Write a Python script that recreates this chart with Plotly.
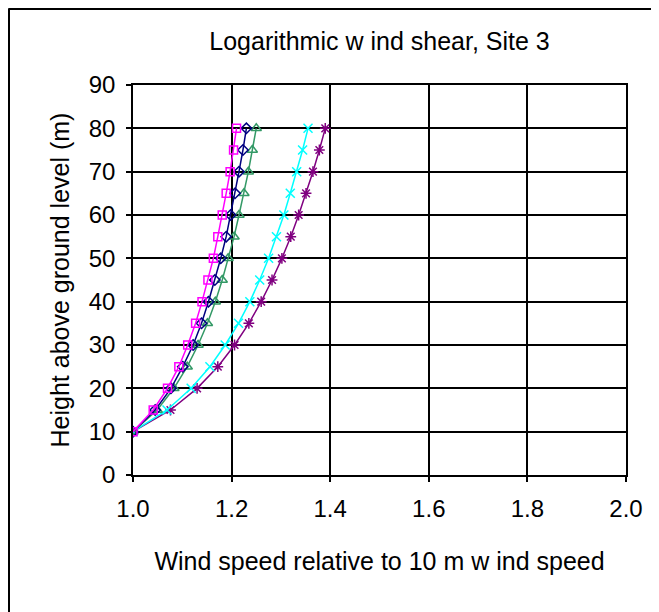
import plotly.graph_objects as go

heights = [10, 15, 20, 25, 30, 35, 40, 45, 50, 55, 60, 65, 70, 75, 80]

series_magenta = [1.000, 1.041, 1.070, 1.093, 1.111, 1.127, 1.140, 1.152, 1.163, 1.172, 1.181, 1.189, 1.197, 1.204, 1.210]
series_navy    = [1.000, 1.045, 1.077, 1.101, 1.122, 1.139, 1.153, 1.166, 1.178, 1.189, 1.198, 1.207, 1.215, 1.223, 1.230]
series_green   = [1.000, 1.049, 1.083, 1.110, 1.132, 1.151, 1.167, 1.181, 1.193, 1.205, 1.215, 1.225, 1.234, 1.242, 1.250]
series_cyan    = [1.000, 1.069, 1.118, 1.156, 1.187, 1.214, 1.237, 1.257, 1.275, 1.291, 1.306, 1.319, 1.332, 1.344, 1.355]
series_purple  = [1.000, 1.076, 1.130, 1.172, 1.206, 1.235, 1.260, 1.282, 1.302, 1.320, 1.336, 1.351, 1.365, 1.378, 1.390]

x_ticks = [1.0, 1.2, 1.4, 1.6, 1.8, 2.0]
y_ticks = [0, 10, 20, 30, 40, 50, 60, 70, 80, 90]

styles = [
    (series_purple, "#800080", "asterisk-open", 9),
    (series_cyan, "#00FFFF", "x-thin-open", 9),
    (series_green, "#339966", "triangle-up-open", 9),
    (series_navy, "#000080", "diamond-open", 8),
    (series_magenta, "#FF00FF", "square-open", 8),
]

fig = go.Figure()
for vals, col, sym, sz in styles:
    fig.add_trace(go.Scatter(
        x=vals, y=heights, mode="lines+markers",
        line=dict(color=col, width=1.5),
        marker=dict(symbol=sym, size=sz, color=col, line=dict(color=col, width=1.5)),
        showlegend=False,
    ))

W, H = 651, 604
L, T = 125, 77
PW, PH = 493, 390
R, B = W - L - PW, H - T - PH


def px_x(fx):
    return (fx - L) / PW


def px_y(fy):
    return (T + PH - fy) / PH


fig.update_layout(
    width=W, height=H,
    margin=dict(l=L, r=R, t=T, b=B),
    paper_bgcolor="white", plot_bgcolor="white",
    font=dict(family="Liberation Sans, Arial, sans-serif", color="black"),
    title=dict(text="Logarithmic w ind shear, Site 3", x=(L + PW / 2) / W, xanchor="center",
               y=1 - 33 / H, yanchor="middle", yref="container",
               font=dict(size=25, color="black")),
    xaxis=dict(range=[1.0, 2.0], tickvals=x_ticks, ticktext=[f"{v:.1f}" for v in x_ticks],
               showgrid=True, gridcolor="black", gridwidth=1.5,
               showline=True, linecolor="black", linewidth=1.5, mirror=True,
               ticks="outside", ticklen=5, tickcolor="black", tickwidth=1.5,
               tickfont=dict(size=24), zeroline=False, ticklabelstandoff=6,
               title=dict(text="Wind speed relative to 10 m w ind speed", font=dict(size=25), standoff=32)),
    yaxis=dict(range=[0, 90], tickvals=y_ticks,
               showgrid=True, gridcolor="black", gridwidth=1.5,
               showline=True, linecolor="black", linewidth=1.5, mirror=True,
               ticks="outside", ticklen=5, tickcolor="black", tickwidth=1.5,
               tickfont=dict(size=24), zeroline=False, ticklabelstandoff=6,
               title=dict(text="Height above ground level (m)", font=dict(size=25), standoff=12)),
    shapes=[
        dict(type="line", xref="paper", yref="paper",
             x0=px_x(0.5), x1=px_x(W + 5), y0=px_y(1), y1=px_y(1),
             line=dict(color="black", width=2)),
        dict(type="line", xref="paper", yref="paper",
             x0=px_x(1), x1=px_x(1), y0=px_y(0.5), y1=px_y(H + 5),
             line=dict(color="black", width=2)),
    ],
)

fig.write_html("out.html")
